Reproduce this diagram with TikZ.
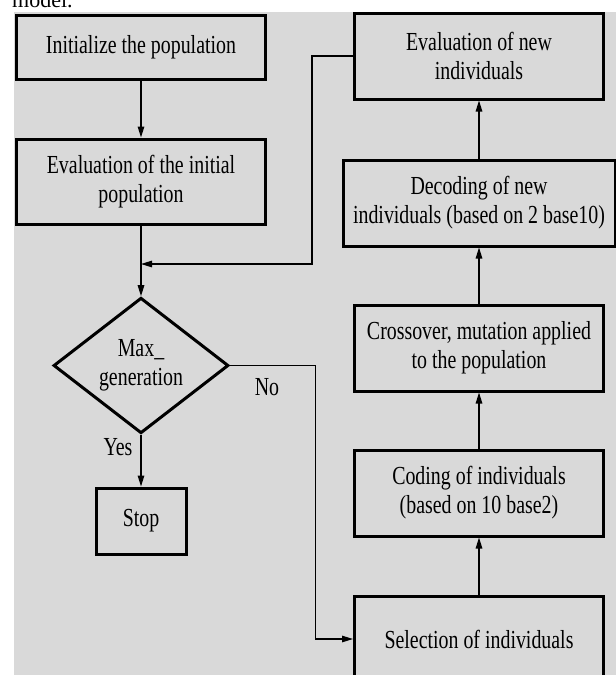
\documentclass[tikz,border=0pt]{standalone}
\usepackage{fontspec}
\setmainfont{Liberation Serif}[FakeStretch=0.765]
\newfontfamily\plainserif{Liberation Serif}
\usetikzlibrary{arrows.meta,shapes.geometric}
\definecolor{bg}{RGB}{217,217,217}
\tikzset{
  box/.style={draw, line width=3pt, rectangle, align=center, inner sep=0pt,
              minimum width=249pt, minimum height=86pt,
              font=\fontsize{26}{29}\selectfont},
  dec/.style={draw, line width=3pt, diamond, align=center, inner sep=0pt,
              minimum width=175pt, minimum height=113pt,
              font=\fontsize{26}{29}\selectfont},
  lbl/.style={inner sep=0pt, font=\fontsize{26}{29}\selectfont},
  arr/.style={line width=1.3pt, -{Triangle[length=11pt,width=6.5pt]}},
  ln/.style={line width=1.3pt}
}
\begin{document}
\begin{tikzpicture}[x=1pt,y=-1pt]
\useasboundingbox (0,0) rectangle (616,675);
\fill[white] (0,0) rectangle (616,675);
\fill[bg] (14,12) rectangle (616,680);
\node[anchor=base west, inner sep=0pt, font=\plainserif\fontsize{22}{24}\selectfont] (cap) at (12,7) {model.};

% left column
\node[box, minimum height=64pt] (init) at (141,47) {Initialize the population};
\node[box, minimum height=85pt] (evinit) at (141,181.5) {Evaluation of the initial\\population};
\node[dec] (dia) at (141,365.5) {Max\_\\generation};
\node[box, minimum width=90pt, minimum height=66pt] (stop) at (141,521) {Stop};

% right column
\node[box] (evnew) at (479,56) {Evaluation of new\\individuals};
\node[box, minimum width=272pt] (decod) at (479,203) {Decoding of new\\individuals (based on 2 base10)};
\node[box] (cross) at (479,348) {Crossover, mutation applied\\to the population};
\node[box] (coding) at (479,493) {Coding of individuals\\(based on 10 base2)};
\node[box] (sel) at (479,639) {Selection of individuals};

% labels
\node[lbl] (no) at (267,387) {No};
\node[lbl] (yes) at (118,447) {Yes};

% connectors
\coordinate (join) at (141,264);
\draw[arr] (init) -- (evinit);
\draw[arr] (evinit) -- (dia);
\draw[arr] (evnew.west) -- ++(-41,0) |- (join);
\draw[arr] (dia) -- (stop);
\draw[arr] (dia.east) -- ++(85.5,0) |- (sel.west);
\draw[arr] (sel) -- (coding);
\draw[arr] (coding) -- (cross);
\draw[arr] (cross) -- (decod);
\draw[arr] (decod) -- (evnew);
\end{tikzpicture}
\end{document}
